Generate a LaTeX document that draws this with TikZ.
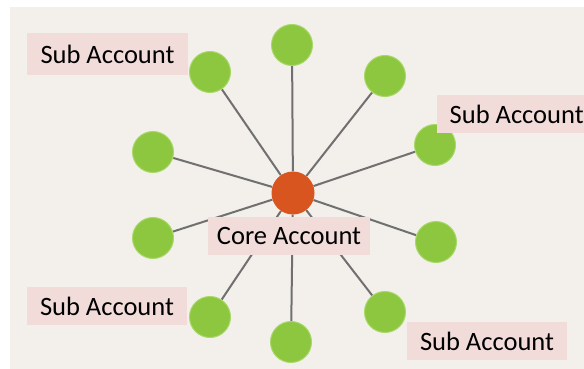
\documentclass[tikz,border=0pt]{standalone}
\usepackage{fontspec}
\setmainfont{Carlito}
\definecolor{panel}{HTML}{F3F0EB}
\definecolor{leaf}{HTML}{8DC63F}
\definecolor{leafrim}{HTML}{A8D86A}
\definecolor{core}{HTML}{D8551F}
\definecolor{tag}{HTML}{F1DCDA}
\definecolor{spoke}{HTML}{707070}
\pgfdeclarelayer{bg}
\pgfsetlayers{bg,main}
\begin{document}
\begin{tikzpicture}[x=1pt,y=-1pt,
  leafnode/.style={circle,fill=leaf,draw=leafrim,line width=1pt,minimum size=41pt,inner sep=0pt},
  corenode/.style={circle,fill=core,minimum size=43pt,inner sep=0pt},
  tagbox/.style={fill=tag,inner sep=0pt,font=\fontsize{26.5}{30}\selectfont,text=black},
  spokeline/.style={draw=spoke,line width=2pt}]
\useasboundingbox (0,0) rectangle (584,369);
\node[corenode] (c) at (293,193) {};
\node[leafnode] (n1) at (210,72) {};
\node[leafnode] (n2) at (292,45) {};
\node[leafnode] (n3) at (385,76) {};
\node[leafnode] (n4) at (435,145) {};
\node[leafnode] (n5) at (153,152) {};
\node[leafnode] (n6) at (153,238) {};
\node[leafnode] (n7) at (210,317) {};
\node[leafnode] (n8) at (291,342) {};
\node[leafnode] (n9) at (385,312) {};
\node[leafnode] (n10) at (436,242) {};
\begin{pgfonlayer}{bg}
\fill[white] (0,0) rectangle (584,369);
\fill[panel] (10,7) rectangle (584,369);
\foreach \n in {n1,n2,n3,n4,n5,n6,n7,n8,n9,n10}{
  \path[spokeline] (c) -- (\n);
}
\end{pgfonlayer}
\node[tagbox,minimum width=161pt,minimum height=42pt] (t1) at (107.5,54) {Sub Account};
\node[tagbox,minimum width=147pt,minimum height=38pt,anchor=west] (t2) at (437,114) {\hspace*{12pt}Sub Account\hfill};
\node[tagbox,minimum width=162pt,minimum height=38pt] (tc) at (289,236) {Core Account};
\node[tagbox,minimum width=160pt,minimum height=38pt] (t3) at (107,306) {Sub Account};
\node[tagbox,minimum width=160pt,minimum height=38pt] (t4) at (487,341) {Sub Account};
\end{tikzpicture}
\end{document}
